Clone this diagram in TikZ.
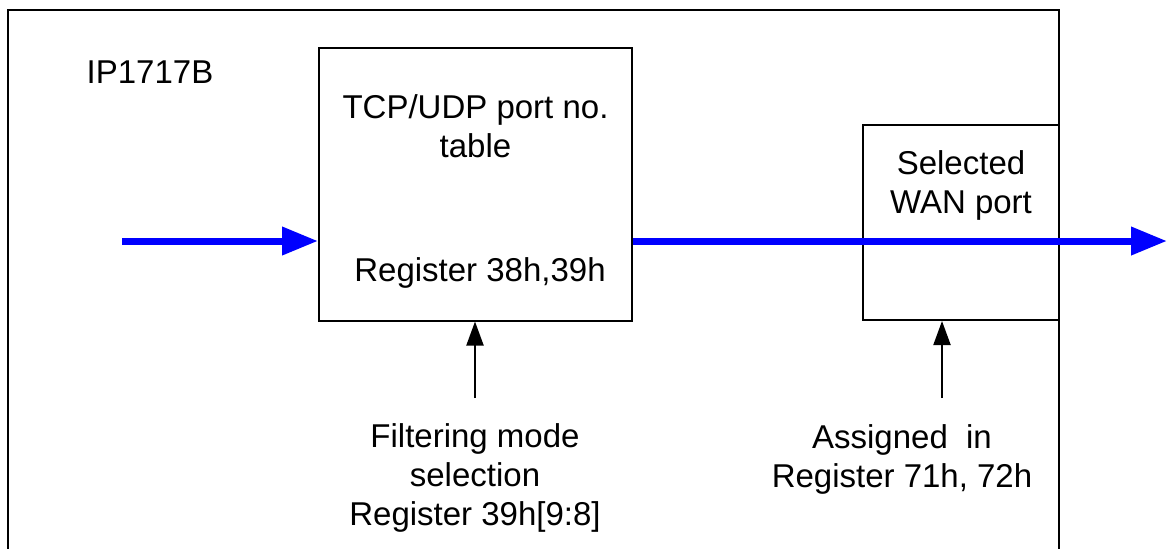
\documentclass[tikz,border=0pt]{standalone}
\usepackage{fontspec}
\setmainfont{Liberation Sans}
\usetikzlibrary{arrows.meta}
\begin{document}
\begin{tikzpicture}[x=0.5pt,y=-0.5pt]
  % Colors
  \colorlet{flowcolor}{blue}
  \colorlet{ctrlcolor}{black}

  % Styles
  \tikzstyle{label text}=[inner sep=0pt,align=center,font=\fontsize{16.5}{19.5}\selectfont]
  \tikzstyle{block}=[draw,line width=1pt,inner sep=0pt]
  \tikzstyle{flow}=[flowcolor,line width=3.5pt,-{Triangle[length=18pt,width=13.5pt]}]
  \tikzstyle{ctrl}=[ctrlcolor,line width=1pt,-{Triangle[length=12pt,width=8.5pt]}]

  \useasboundingbox (0,0) rectangle (1167,548);

  % The chip outline, open at the bottom
  \draw[line width=1pt] (8,560) -- (8,10) -- (1059,10) -- (1059,560);
  \node[label text] (chip) at (150,72) {IP1717B};

  % Blocks
  \node[block,minimum width=156.5pt,minimum height=136.5pt] (table) at (475.5,184) {};
  \node[block,minimum width=98pt,minimum height=97.5pt] (wan) at (961,222.5) {};

  \node[label text] (tabletext) at (475.5,126) {TCP/UDP port no.\\table};
  \node[label text] (tablereg) at (480,273) {Register 38h,39h};
  \node[label text] (wantext) at (961,185) {Selected\\WAN port};

  % Inputs below
  \node[label text] (mode) at (475,478) {Filtering mode\\selection\\Register 39h[9:8]};
  \node[label text] (assign) at (902,459) {Assigned\ \ in\\Register 71h, 72h};

  \coordinate (modein) at (475,398);
  \coordinate (assignin) at (942,398);
  \draw[ctrl] (modein) -- (modein |- table.south);
  \draw[ctrl] (assignin) -- (assignin |- wan.south);

  % Data path
  \coordinate (in) at (122,241);
  \coordinate (out) at (1167,241);
  \draw[flow] (in) -- (in -| table.west);
  \draw[flow] (in -| table.east) -- (out);
\end{tikzpicture}
\end{document}
